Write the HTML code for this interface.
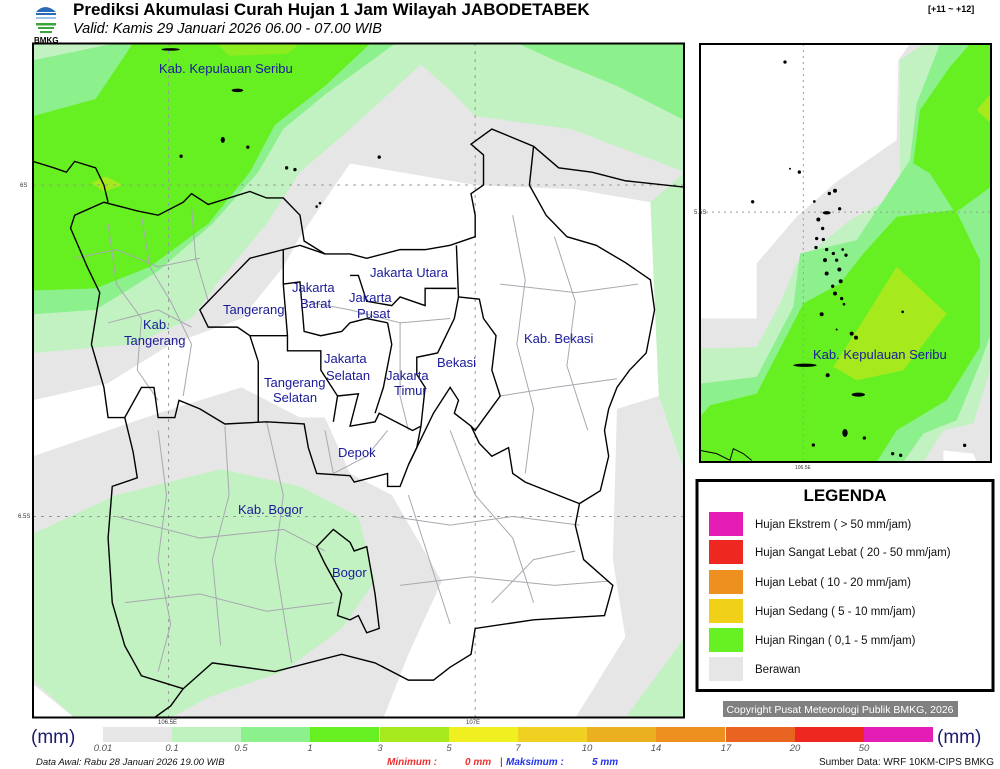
<!DOCTYPE html>
<html><head><meta charset="utf-8"><style>
html,body{margin:0;padding:0;background:#fff;width:1000px;height:769px;overflow:hidden}
svg{display:block}
text{font-family:"Liberation Sans",sans-serif}
</style></head><body>
<svg width="1000" height="769" viewBox="0 0 1000 769" xmlns="http://www.w3.org/2000/svg">
<!-- header -->
<g>
<path d="M36 12 Q45 2 56 12 Z" fill="#2a6bb8"/>
<rect x="36" y="13" width="20" height="2" fill="#2a6bb8"/>
<rect x="36" y="17" width="20" height="2" fill="#9ec3e8"/>
<rect x="36" y="23" width="20" height="2.5" fill="#3aa63a"/>
<rect x="38" y="27" width="16" height="2" fill="#3aa63a"/>
<rect x="40" y="31" width="12" height="2" fill="#3aa63a"/>
<text x="34" y="43" font-size="8" font-weight="bold">BMKG</text>
</g>
<text x="73" y="15" font-size="17" font-weight="bold">Prediksi Akumulasi Curah Hujan 1 Jam Wilayah JABODETABEK</text>
<text x="73" y="33" font-size="14.5" font-style="italic">Valid: Kamis 29 Januari 2026 06.00 - 07.00 WIB</text>
<text x="928" y="12" font-size="9" font-weight="bold">[+11 ~ +12]</text>

<!-- main map -->
<svg x="33" y="43" width="652" height="675" viewBox="0 0 1563 1568" preserveAspectRatio="none">
<rect x="0" y="0" width="1563" height="1568" fill="#e6e6e6"/>
<polygon fill="#c2f2c2" points="0,0 1563,0 1563,300 1290,200 1060,170 1000,110 930,50 760,200 640,300 560,420 440,560 380,640 240,700 0,720"/>
<polygon fill="#c2f2c2" points="1563,300 1480,370 1500,820 1563,1000"/>
<polygon fill="#8cf08c" points="1160,0 1563,0 1563,180 1400,100 1250,40"/>
<polygon fill="#8cf08c" points="0,40 200,0 870,0 700,120 600,200 540,300 430,420 300,530 150,620 0,630"/>
<polygon fill="#66f022" points="0,170 150,130 240,0 810,0 700,100 580,190 520,300 420,420 280,520 150,570 0,575"/>
<polygon fill="#8ced20" points="440,0 640,0 610,25 470,30"/>
<polygon fill="#a6ea1e" points="140,325 175,310 215,330 170,345"/>
<polygon fill="#ffffff" points="0,830 180,790 330,700 500,640 600,520 640,450 760,280 1060,330 1300,340 1480,370 1500,820 1400,850 1390,1200 1420,1380 1300,1568 840,1568 900,1420 980,1250 860,1050 760,1000 700,870 640,870 500,800 300,860 0,960"/>
<polygon fill="#c2f2c2" points="0,1140 200,1050 450,990 640,1030 780,1100 820,1250 740,1360 600,1460 420,1520 330,1568 100,1568 0,1480"/>
<polygon fill="#ffffff" points="0,1490 100,1568 0,1568"/>
<polygon fill="#c2f2c2" points="1563,1380 1420,1568 1563,1568"/>
<!-- graticule -->
<g stroke="#999" stroke-dasharray="3,5" fill="none">
<line x1="325" y1="0" x2="325" y2="1568" vector-effect="non-scaling-stroke"/>
<line x1="1060" y1="0" x2="1060" y2="1568" vector-effect="non-scaling-stroke"/>
<line x1="0" y1="330" x2="1563" y2="330" vector-effect="non-scaling-stroke"/>
<line x1="0" y1="1100" x2="1563" y2="1100" vector-effect="non-scaling-stroke"/>
</g>
<!-- district gray lines -->
<g stroke="#a8a8b0" fill="none" stroke-width="1">
<polyline vector-effect="non-scaling-stroke" points="180,420 200,560 260,640 250,760 300,830"/>
<polyline vector-effect="non-scaling-stroke" points="260,400 280,520 330,600 380,700 360,820"/>
<polyline vector-effect="non-scaling-stroke" points="380,380 390,500 420,600"/>
<polyline vector-effect="non-scaling-stroke" points="300,900 320,1050 300,1200 330,1350 300,1460"/>
<polyline vector-effect="non-scaling-stroke" points="460,890 470,1050 430,1200 450,1400"/>
<polyline vector-effect="non-scaling-stroke" points="560,880 600,1050 580,1200 620,1440"/>
<polyline vector-effect="non-scaling-stroke" points="200,1100 400,1150 600,1130 700,1180"/>
<polyline vector-effect="non-scaling-stroke" points="220,1300 400,1280 560,1320 720,1300"/>
<polyline vector-effect="non-scaling-stroke" points="900,1050 950,1200 1000,1350"/>
<polyline vector-effect="non-scaling-stroke" points="1000,900 1060,1050 1150,1150 1200,1300"/>
<polyline vector-effect="non-scaling-stroke" points="860,1100 1000,1120 1150,1100 1310,1120"/>
<polyline vector-effect="non-scaling-stroke" points="880,1260 1050,1240 1250,1260 1380,1250"/>
<polyline vector-effect="non-scaling-stroke" points="1150,400 1180,550 1160,700 1200,850 1180,1000"/>
<polyline vector-effect="non-scaling-stroke" points="1250,450 1300,600 1280,750 1330,900"/>
<polyline vector-effect="non-scaling-stroke" points="1120,560 1300,580 1450,560"/>
<polyline vector-effect="non-scaling-stroke" points="1120,820 1250,800 1400,780"/>
<polyline vector-effect="non-scaling-stroke" points="650,600 760,620 880,650 1000,640"/>
<polyline vector-effect="non-scaling-stroke" points="880,650 880,820 900,900"/>
<polyline vector-effect="non-scaling-stroke" points="700,900 720,1000 800,960 850,900"/>
<polyline vector-effect="non-scaling-stroke" points="100,500 200,480 300,520 400,500"/>
<polyline vector-effect="non-scaling-stroke" points="180,650 300,620 380,660"/>
<polyline vector-effect="non-scaling-stroke" points="1100,1300 1200,1200 1300,1180"/>
</g>
<!-- black boundaries -->
<g stroke="#000" fill="none" stroke-width="1.4">
<polyline vector-effect="non-scaling-stroke" points="0,275 50,290 80,300 100,275 150,290 170,330 180,370"/>
<polyline vector-effect="non-scaling-stroke" points="1200,240 1260,290 1340,300 1420,320 1563,335"/>
<polygon vector-effect="non-scaling-stroke" points="100,400 170,370 250,390 300,400 360,370 380,350 420,375 520,345 560,360 600,360 640,400 650,460 700,490 760,490 800,500 880,480 940,480 1000,470 1060,450 1060,400 1050,350 1080,330 1080,260 1050,235 1100,200 1200,240 1190,330 1230,400 1280,450 1350,470 1420,510 1480,550 1490,620 1470,720 1430,760 1400,800 1380,850 1370,900 1380,960 1360,1040 1310,1070 1300,1120 1320,1200 1390,1260 1370,1330 1200,1340 1060,1360 1050,1420 1000,1450 960,1480 900,1480 820,1440 740,1420 580,1460 430,1440 360,1500 260,1470 220,1400 190,1300 180,1150 190,1030 250,1010 240,950 220,870 180,870 170,800 140,700 150,640 160,580 130,520 90,430"/>
<polyline vector-effect="non-scaling-stroke" points="360,1500 330,1540 290,1568"/>
<polyline vector-effect="non-scaling-stroke" points="220,870 260,800 290,800 300,870 340,870 350,830 400,850 460,885 560,880 650,885 660,940 680,1000 760,1005 770,1020 850,1000 850,1030 880,1030 900,980 960,860 1000,800 1020,830 1010,860 1050,890 1070,930 1100,960 1140,940 1150,1000 1180,1020 1310,1070"/>
<polygon vector-effect="non-scaling-stroke" points="400,620 460,560 520,500 600,480 600,560 610,680 520,680 490,660 420,660"/>
<polyline vector-effect="non-scaling-stroke" points="520,680 540,740 540,880"/>
<polyline vector-effect="non-scaling-stroke" points="600,480 640,470 700,490"/>
<polyline vector-effect="non-scaling-stroke" points="600,560 640,555 650,670 690,680 740,670 760,650 800,640 850,650"/>
<polyline vector-effect="non-scaling-stroke" points="610,680 610,715 690,715 690,760 730,820 720,880"/>
<polyline vector-effect="non-scaling-stroke" points="730,820 780,815 760,890 820,880 830,860 870,880 910,900 930,890"/>
<polyline vector-effect="non-scaling-stroke" points="760,540 780,540 800,600 860,610 880,590 940,610 940,570 1015,570"/>
<polyline vector-effect="non-scaling-stroke" points="850,650 860,700 850,750 840,800 820,860"/>
<polyline vector-effect="non-scaling-stroke" points="1015,470 1020,590 1010,640 970,720 920,730 920,770 940,800 930,890 920,940 900,980"/>
<polyline vector-effect="non-scaling-stroke" points="1020,590 1070,595 1080,640 1110,680 1100,760 1120,820 1090,860 1060,900 1050,890"/>
<polygon vector-effect="non-scaling-stroke" points="680,1170 720,1130 760,1160 770,1180 800,1170 820,1280 830,1360 800,1370 780,1330 760,1340 730,1330 740,1280 700,1210"/>
</g>
<g fill="#000">
<ellipse cx="330" cy="15" rx="22" ry="3"/>
<ellipse cx="490" cy="110" rx="14" ry="4"/>
<ellipse cx="455" cy="225" rx="5" ry="7"/>
<circle cx="515" cy="242" r="4"/>
<circle cx="355" cy="263" r="4"/>
<circle cx="608" cy="290" r="4"/>
<circle cx="628" cy="294" r="4"/>
<circle cx="830" cy="265" r="4"/>
<circle cx="680" cy="380" r="3"/>
<circle cx="688" cy="372" r="3"/>
</g>
</svg>
<rect x="33" y="43.5" width="651" height="674" fill="none" stroke="#000" stroke-width="2"/>
<g font-size="6" fill="#333">
<text x="20" y="187">6S</text><text x="18" y="518">6.5S</text>
<text x="158" y="724">106.5E</text><text x="466" y="724">107E</text>
</g>
<g font-size="13" fill="#1a1a9a">
<text x="159" y="73">Kab. Kepulauan Seribu</text>
<text x="370" y="277">Jakarta Utara</text>
<text x="292" y="292">Jakarta</text><text x="300" y="308">Barat</text>
<text x="349" y="302">Jakarta</text><text x="357" y="318">Pusat</text>
<text x="223" y="314">Tangerang</text>
<text x="143" y="329">Kab.</text><text x="124" y="345">Tangerang</text>
<text x="524" y="343">Kab. Bekasi</text>
<text x="324" y="363">Jakarta</text><text x="326" y="380">Selatan</text>
<text x="386" y="380">Jakarta</text><text x="394" y="395">Timur</text>
<text x="437" y="367">Bekasi</text>
<text x="264" y="387">Tangerang</text><text x="273" y="402">Selatan</text>
<text x="338" y="457">Depok</text>
<text x="238" y="514">Kab. Bogor</text>
<text x="332" y="577">Bogor</text>
</g>

<!-- inset -->
<svg x="700" y="44" width="291" height="418" viewBox="30 132 873 1253" preserveAspectRatio="none">
<rect x="0" y="0" width="1000" height="1500" fill="#e6e6e6"/>
<polygon fill="#fff" points="30,132 660,132 625,180 620,420 440,545 320,650 200,790 200,955 30,955"/>
<polygon fill="#c2f2c2" points="30,1045 200,1040 270,910 320,790 480,660 630,580 630,180 700,132 903,132 903,1100 850,1270 760,1290 700,1385 30,1385"/>
<polygon fill="#8cf08c" points="30,1150 200,1130 310,920 330,760 500,720 660,480 680,310 750,132 903,132 903,1000 870,1090 800,1260 700,1300 640,1385 30,1385"/>
<polygon fill="#66f022" points="30,1250 60,1215 200,1180 340,910 450,850 520,760 620,650 790,630 720,520 670,490 690,330 780,200 840,132 903,132 903,560 800,635 870,780 870,1040 770,1200 620,1290 560,1385 30,1385"/>
<polygon fill="#a6ea1e" points="620,800 770,940 640,1110 500,1140 430,1100 520,960"/>
<polygon fill="#a6ea1e" points="860,330 903,280 903,370"/>
<polygon fill="#fff" points="760,1350 850,1360 860,1385 760,1385"/>
<g stroke="#999" stroke-dasharray="6,12" stroke-width="3" fill="none">
<line x1="340" y1="132" x2="340" y2="1385"/>
<line x1="30" y1="636" x2="903" y2="636"/>
</g>
<g fill="#000">
<circle cx="285" cy="186" r="5"/><circle cx="328" cy="516" r="5"/><circle cx="188" cy="605" r="5"/><circle cx="300" cy="506" r="3"/>
<circle cx="373" cy="604" r="4"/><circle cx="418" cy="580" r="5"/><circle cx="435" cy="572" r="6"/><circle cx="449" cy="626" r="5"/>
<ellipse cx="410" cy="638" rx="12" ry="5"/><circle cx="385" cy="658" r="6"/><circle cx="398" cy="685" r="5"/><circle cx="380" cy="715" r="5"/>
<circle cx="400" cy="718" r="5"/><circle cx="378" cy="742" r="5"/><circle cx="410" cy="748" r="5"/><circle cx="430" cy="760" r="5"/>
<circle cx="458" cy="748" r="4"/><circle cx="468" cy="765" r="5"/><circle cx="405" cy="780" r="6"/><circle cx="440" cy="780" r="5"/>
<circle cx="410" cy="820" r="6"/><circle cx="448" cy="808" r="6"/><circle cx="452" cy="843" r="6"/><circle cx="428" cy="858" r="5"/>
<circle cx="435" cy="880" r="6"/><circle cx="455" cy="895" r="5"/><circle cx="462" cy="912" r="4"/><circle cx="395" cy="942" r="6"/>
<circle cx="638" cy="935" r="4"/><circle cx="440" cy="988" r="3"/><circle cx="485" cy="1000" r="6"/><circle cx="498" cy="1012" r="6"/>
<ellipse cx="345" cy="1095" rx="35" ry="5"/><circle cx="413" cy="1125" r="6"/><ellipse cx="505" cy="1183" rx="20" ry="6"/>
<ellipse cx="465" cy="1298" rx="8" ry="12"/><circle cx="523" cy="1313" r="5"/><circle cx="370" cy="1334" r="5"/>
<circle cx="608" cy="1360" r="5"/><circle cx="632" cy="1365" r="5"/><circle cx="824" cy="1335" r="5"/>
</g>
<polyline points="30,1350 80,1360 120,1380 130,1345 160,1360 185,1380" fill="none" stroke="#000" stroke-width="3"/>
</svg>
<rect x="700" y="44" width="291" height="418" fill="none" stroke="#000" stroke-width="2"/>
<text x="813" y="359" font-size="13" fill="#1a1a9a">Kab. Kepulauan Seribu</text>
<text x="694" y="214" font-size="6" fill="#333">5.5S</text>
<text x="795" y="469" font-size="5" fill="#333">106.5E</text>

<!-- legend -->
<rect x="697" y="480.5" width="296" height="210" fill="#fff" stroke="#000" stroke-width="3"/>
<text x="845" y="501" font-size="17" font-weight="bold" text-anchor="middle" font-family="DejaVu Sans, sans-serif">LEGENDA</text>
<rect x="709" y="512" width="34" height="24" fill="#e41eb4"/>
<rect x="709" y="540" width="34" height="24" fill="#ee2820"/>
<rect x="709" y="570" width="34" height="24" fill="#ee9020"/>
<rect x="709" y="599" width="34" height="24" fill="#f0d018"/>
<rect x="709" y="628" width="34" height="24" fill="#66f022"/>
<rect x="709" y="657" width="34" height="24" fill="#e6e6e6"/>
<g font-size="11.5" fill="#111">
<text x="755" y="528">Hujan Ekstrem ( &gt; 50 mm/jam)</text>
<text x="755" y="556">Hujan Sangat Lebat ( 20 - 50 mm/jam)</text>
<text x="755" y="586">Hujan Lebat ( 10 - 20 mm/jam)</text>
<text x="755" y="615">Hujan Sedang ( 5 - 10 mm/jam)</text>
<text x="755" y="644">Hujan Ringan ( 0,1 - 5 mm/jam)</text>
<text x="755" y="673">Berawan</text>
</g>
<rect x="723" y="701" width="235" height="16" fill="#808080"/>
<text x="840" y="713" font-size="10.5" fill="#fff" text-anchor="middle">Copyright Pusat Meteorologi Publik BMKG, 2026</text>

<!-- colorbar -->
<g>
<rect x="103" y="727" width="69.2" height="15" fill="#e6e6e6"/>
<rect x="172" y="727" width="69.2" height="15" fill="#c0f2c0"/>
<rect x="241" y="727" width="69.2" height="15" fill="#8cf08c"/>
<rect x="310" y="727" width="69.2" height="15" fill="#66f022"/>
<rect x="380" y="727" width="69.2" height="15" fill="#a6ea1e"/>
<rect x="449" y="727" width="69.2" height="15" fill="#f0f020"/>
<rect x="518" y="727" width="69.2" height="15" fill="#f0d020"/>
<rect x="587" y="727" width="69.2" height="15" fill="#eab020"/>
<rect x="656" y="727" width="69.2" height="15" fill="#ee9020"/>
<rect x="726" y="727" width="69.2" height="15" fill="#e86420"/>
<rect x="795" y="727" width="69.2" height="15" fill="#ee2820"/>
<rect x="864" y="727" width="69" height="15" fill="#e41eb4"/>
</g>
<text x="31" y="743" font-size="19" fill="#1a1a6e">(mm)</text>
<text x="937" y="743" font-size="19" fill="#1a1a6e">(mm)</text>
<g font-size="9.5" font-style="italic" fill="#555" text-anchor="middle">
<text x="103" y="751">0.01</text><text x="172" y="751">0.1</text><text x="241" y="751">0.5</text><text x="310" y="751">1</text>
<text x="380" y="751">3</text><text x="449" y="751">5</text><text x="518" y="751">7</text><text x="587" y="751">10</text>
<text x="656" y="751">14</text><text x="726" y="751">17</text><text x="795" y="751">20</text><text x="864" y="751">50</text>
</g>
<text x="36" y="765" font-size="9.5" font-style="italic" fill="#111">Data Awal: Rabu 28 Januari 2026 19.00 WIB</text>
<text x="387" y="765" font-size="10" font-style="italic" font-weight="bold" fill="#ee3030">Minimum :</text>
<text x="465" y="765" font-size="10" font-style="italic" font-weight="bold" fill="#ee3030">0 mm</text>
<text x="500" y="765" font-size="10" fill="#222">|</text>
<text x="506" y="765" font-size="10" font-style="italic" font-weight="bold" fill="#2233ee">Maksimum :</text>
<text x="592" y="765" font-size="10" font-style="italic" font-weight="bold" fill="#2233ee">5 mm</text>
<text x="994" y="765" font-size="10" fill="#111" text-anchor="end">Sumber Data: WRF 10KM-CIPS BMKG</text>
</svg>
</body></html>
